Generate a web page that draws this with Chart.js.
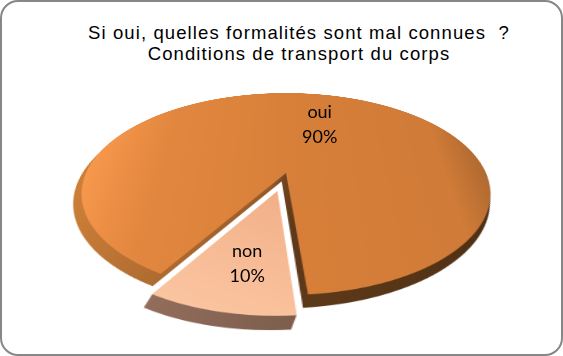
<!DOCTYPE html>
<html>
<head>
<meta charset="utf-8">
<title>Conditions de transport du corps</title>
<script src="https://cdn.jsdelivr.net/npm/chart.js@4.4.1/dist/chart.umd.min.js"></script>
<style>
  html, body { margin: 0; padding: 0; background: #fff; }
  #frame {
    position: absolute; left: 0; top: 0; width: 559px; height: 352px;
    border: 2px solid #878787; border-radius: 18px; overflow: hidden; background: #fff;
  }
  #pie { position: absolute; }
  #title {
    position: absolute; left: 0; top: 19.5px; width: 524px; padding-left: 35px;
    text-align: center; color: #000; letter-spacing: 1.1px;
    font: 18.5px/21px "Liberation Sans", Arial, sans-serif;
  }
  .lbl {
    position: absolute; text-align: center; white-space: nowrap; color: #000;
    font: 18px/25px Lato, "Noto Sans", sans-serif;
    transform: translate(-50%, calc(-50% - 1.5px));
  }
</style>
</head>
<body>
<div id="frame">
  <canvas id="pie" width="500" height="520"></canvas>
  <div id="title">Si oui, quelles formalités sont mal connues&nbsp; ?<br>Conditions de transport du corps</div>
</div>
<script>
"use strict";

// chart data
const categories = ["oui", "non"];
const percents = [90, 10];
const pctLabels = ["90%", "10%"];

// 3d look: the flat pie canvas is tilted with a css perspective transform
const TILT_DEG = 61.1;
const PERSP = 842;
const ORIGIN = 250;          // pie centre inside the canvas
const CANVAS_LEFT = 33.5;
const CANVAS_TOP = -79;
const RADIUS = 200;
const DEPTH = 17;            // side wall, in flat px
const SLANT = 0.25;
const explode = [0, 37];     // pull-out of each slice, flat px
const sliceScale = [1, 0.95];
const labelRadius = [0.585, 0.62];
const labelTurn = [6, -2];   // degrees

const canvas = document.getElementById("pie");
canvas.style.left = CANVAS_LEFT + "px";
canvas.style.top = CANVAS_TOP + "px";
canvas.style.transformOrigin = ORIGIN + "px " + ORIGIN + "px";
canvas.style.transform = `perspective(${PERSP}px) rotateX(${TILT_DEG}deg)`;

// flat canvas point -> position inside the frame
function project(x, y) {
  const a = TILT_DEG * Math.PI / 180;
  const dx = x - ORIGIN, dy = y - ORIGIN;
  const s = PERSP / (PERSP - dy * Math.sin(a));
  return { left: CANVAS_LEFT + ORIGIN + dx * s, top: CANVAS_TOP + ORIGIN + dy * Math.cos(a) * s };
}

// colour of the top faces
function topFill(context) {
  const chart = context.chart;
  const i = context.dataIndex;
  if (!chart.chartArea) return i === 0 ? "#D8803B" : "#F4B28B";
  const cx = ORIGIN, cy = ORIGIN;
  let g;
  if (i === 0) {
    g = chart.ctx.createLinearGradient(cx - RADIUS, 0, cx + RADIUS, 0);
    g.addColorStop(0, "#F7984C");
    g.addColorStop(0.18, "#E2873F");
    g.addColorStop(0.5, "#D8803A");
    g.addColorStop(0.9, "#D07B38");
    g.addColorStop(1, "#B06A30");
  } else {
    g = chart.ctx.createLinearGradient(cx + 20, cy, cx - 120, cy + 250);
    g.addColorStop(0, "#F1AE86");
    g.addColorStop(1, "#FECDAA");
  }
  return g;
}

// colour of the side walls
function sideFill(ctx, i) {
  const g = ctx.createLinearGradient(ORIGIN - RADIUS, 0, ORIGIN + RADIUS, 0);
  if (i === 0) {
    g.addColorStop(0, "#CD7F39");
    g.addColorStop(0.3, "#A8672F");
    g.addColorStop(0.47, "#96592A");
    g.addColorStop(0.52, "#5E3A1A");
    g.addColorStop(1, "#4E2F14");
  } else {
    g.addColorStop(0, "#A47A69");
    g.addColorStop(0.5, "#80604F");
    g.addColorStop(1, "#5E4236");
  }
  return g;
}

function drawArc(ctx, arc, i, fill) {
  const mid = (arc.startAngle + arc.endAngle) / 2;
  const k = sliceScale[i];
  ctx.save();
  ctx.translate(Math.cos(mid) * explode[i], Math.sin(mid) * explode[i]);
  ctx.translate(arc.x, arc.y);
  ctx.scale(k, k);
  ctx.translate(-arc.x, -arc.y);
  const keep = arc.options;
  if (fill) arc.options = Object.assign({}, keep, { backgroundColor: fill });
  arc.draw(ctx);
  arc.options = keep;
  ctx.restore();
}

const pie3d = {
  id: "pie3d",
  beforeDatasetsDraw(chart) {
    const ctx = chart.ctx;
    const arcs = chart.getDatasetMeta(0).data;
    // side walls: darker copies, pushed down a little more each time
    for (let d = DEPTH; d > 0; d--) {
      ctx.save();
      ctx.translate(-SLANT * d, d);
      arcs.forEach((arc, i) => drawArc(ctx, arc, i, sideFill(ctx, i)));
      ctx.restore();
    }
    arcs.forEach((arc, i) => drawArc(ctx, arc, i, null));
    return false;
  },
  afterDraw(chart) {
    const frame = document.getElementById("frame");
    const arcs = chart.getDatasetMeta(0).data;
    arcs.forEach((arc, i) => {
      const mid = (arc.startAngle + arc.endAngle) / 2;
      const turn = mid + labelTurn[i] * Math.PI / 180;
      const r = arc.outerRadius * labelRadius[i];
      const x = arc.x + Math.cos(mid) * explode[i] + Math.cos(turn) * r;
      const y = arc.y + Math.sin(mid) * explode[i] + Math.sin(turn) * r;
      const p = project(x, y);
      let el = document.getElementById("lbl" + i);
      if (!el) {
        el = document.createElement("div");
        el.id = "lbl" + i;
        el.className = "lbl";
        frame.appendChild(el);
      }
      el.innerHTML = categories[i] + "<br>" + pctLabels[i];
      el.style.left = p.left + "px";
      el.style.top = p.top + "px";
    });
  }
};

new Chart(canvas, {
  type: "pie",
  data: {
    labels: categories,
    datasets: [{
      data: percents,
      backgroundColor: topFill,
      borderWidth: 0,
      hoverOffset: 0,
      radius: RADIUS,
      clip: false
    }]
  },
  options: {
    responsive: false,
    devicePixelRatio: 2,
    animation: false,
    events: [],
    rotation: 211,
    layout: { padding: { left: 0, right: 0, top: 0, bottom: 20 } },
    plugins: {
      legend: { display: false },
      tooltip: { enabled: false },
      title: { display: false }
    }
  },
  plugins: [pie3d]
});
</script>
</body>
</html>
